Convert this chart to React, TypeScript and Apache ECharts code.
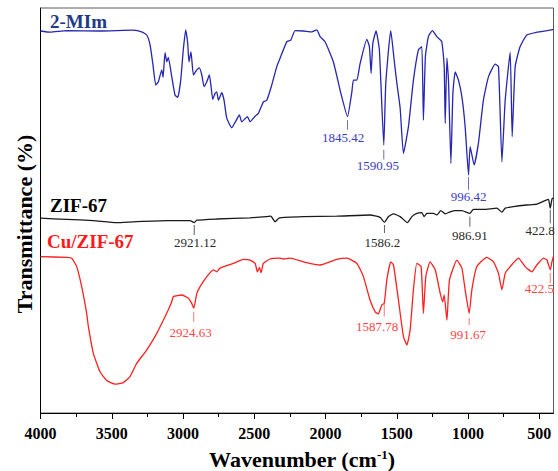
import { useEffect, useRef } from "react";
import * as echarts from "echarts";

// Wavenumber axis (cm-1), drawn high to low
const wavenumberTicks = [4000, 3500, 3000, 2500, 2000, 1500, 1000, 500];
const minorWavenumberTicks = [3750, 3250, 2750, 2250, 1750, 1250, 750];

// FTIR spectra: [wavenumber, transmittance (a.u., offset per sample)]
const mimSpectrum: [number, number][] = [
  [4000, 95.5], [3933, 95.2], [3816, 95.6], [3582, 95.5], [3349, 95.7], [3290, 95.3],
  [3254, 94.5], [3231, 92], [3212, 87.4], [3191, 82], [3173, 82.8], [3149, 85.8],
  [3140, 83.9], [3126, 90.1], [3114, 87.8], [3103, 88.9], [3079, 84.1], [3056, 79.5],
  [3037, 78.9], [3016, 83.2], [2998, 90.8], [2981, 95.8], [2967, 92.4], [2958, 87.8],
  [2944, 90.3], [2927, 84.5], [2903, 85.8], [2885, 86.3], [2868, 84.5], [2852, 81.6],
  [2833, 82.8], [2815, 84.5], [2803, 81.6], [2791, 78.4], [2775, 79.9], [2763, 80.3],
  [2752, 78.2], [2728, 80.1], [2712, 78.2], [2693, 73.7], [2658, 71.3], [2635, 72.6],
  [2604, 74.5], [2588, 72.8], [2548, 74.1], [2529, 72.8], [2494, 74.2], [2471, 74.9],
  [2436, 77.8], [2412, 78.2], [2377, 82], [2342, 86.6], [2319, 88.7], [2272, 92.8],
  [2244, 93.2], [2213, 95.6], [2155, 95.5], [2096, 95.3], [2061, 95.8], [2038, 94.1],
  [2003, 92.8], [1945, 87.8], [1898, 80.8], [1845.42, 74.1], [1815, 80.3], [1804, 83.2],
  [1780, 83.2], [1757, 87.4], [1710, 93.4], [1692, 91.6], [1680, 84.9], [1668, 92.4],
  [1645, 95.5], [1622, 90.8], [1590.95, 67], [1577, 82.4], [1542, 95.6], [1518, 88.2],
  [1499, 82.4], [1476, 76.2], [1453, 64.9], [1418, 71.6], [1383, 83.2], [1348, 90.8],
  [1324, 91.6], [1313, 73.2], [1299, 89.1], [1278, 94.1], [1250, 95.6], [1219, 94.1],
  [1184, 92.8], [1167, 86.6], [1160, 72.4], [1148, 88.7], [1137, 83.2], [1120, 62.4],
  [1106, 79.9], [1090, 85.3], [1067, 83.2], [1043, 79.1], [1020, 71.6], [996.42, 59.5],
  [985, 66.6], [957, 62], [927, 67.4], [892, 78.2], [856, 84.1], [809, 87.2],
  [786, 86.6], [762, 62.8], [739, 78.2], [704, 90.2], [690, 69.1], [669, 86.6],
  [634, 91.6], [587, 94.5], [517, 95.2], [446, 95.6], [400, 95.9],
];

const zif67Spectrum: [number, number][] = [
  [4000, 48.7], [3816, 48.4], [3629, 48.1], [3465, 47.6], [3349, 47.8], [3114, 48.1],
  [2951, 48.1], [2921.12, 47.6], [2903, 48.2], [2763, 48.5], [2529, 48.8], [2412, 49.1],
  [2384, 49.2], [2354, 47.8], [2324, 48.8], [2155, 49.1], [1921, 49.2], [1687, 49.5],
  [1617, 48.9], [1586.2, 47.7], [1558, 49.1], [1523, 49.8], [1476, 49.1], [1425, 47.6],
  [1394, 49.1], [1359, 49.9], [1324, 50.1], [1308, 49.1], [1289, 49.9], [1242, 49.9],
  [1219, 49.5], [1191, 50.6], [1160, 49.8], [1125, 50.3], [1090, 50.6], [1043, 50.6],
  [986.91, 49.9], [962, 50.9], [892, 50.9], [798, 51.2], [762, 50.2], [739, 51.2],
  [681, 51.6], [587, 52], [517, 52.2], [459, 53.1], [435, 53.4], [422.8, 51.2],
  [410, 53.6], [400, 53.8],
];

const cuZif67Spectrum: [number, number][] = [
  [4000, 39.1], [3816, 38.9], [3781, 38.7], [3746, 36.6], [3711, 31.6], [3676, 24.9],
  [3664, 21.6], [3629, 14.9], [3582, 10.3], [3535, 8.1], [3477, 7.2], [3419, 7.6],
  [3372, 9.1], [3325, 12.4], [3254, 15.8], [3184, 19.9], [3138, 23.2], [3103, 25.8],
  [3079, 27.8], [3068, 29.1], [3009, 29.5], [2962, 28.7], [2939, 27.4], [2924.63, 26.2],
  [2903, 29.9], [2880, 31.6], [2833, 34.1], [2787, 35.8], [2763, 35.3], [2740, 36.2],
  [2647, 37.4], [2576, 38.4], [2529, 38.2], [2494, 37.4], [2478, 35.3], [2464, 36.4],
  [2452, 35.1], [2436, 37.4], [2389, 38.5], [2319, 38.7], [2296, 38.5], [2249, 38.7],
  [2155, 37.8], [2038, 37], [1921, 38.4], [1850, 38.7], [1780, 37.4], [1734, 34.1],
  [1687, 28.2], [1650, 25.2], [1629, 24.8], [1605, 27], [1587.78, 27.4], [1570, 33.2],
  [1542, 37.8], [1523, 37], [1488, 28.2], [1453, 19.1], [1429, 17], [1406, 20.8],
  [1383, 30.8], [1359, 37.4], [1329, 36.6], [1313, 24.9], [1296, 34.1], [1266, 37.8],
  [1230, 35.8], [1195, 29.9], [1177, 27.8], [1167, 29.5], [1148, 23.2], [1130, 33.2],
  [1078, 38.2], [1043, 36.2], [1020, 30.8], [991.67, 24.9], [973, 30.8], [938, 36.6],
  [868, 38.9], [821, 37.8], [786, 34.9], [762, 30.8], [739, 34.9], [704, 36.6],
  [646, 38.7], [599, 36.6], [552, 35.3], [517, 37], [470, 38.7], [446, 38.2],
  [422.5, 35.8], [411, 37.8], [400, 39.2],
];

// Peak markers: [wavenumber, marker top, marker bottom]
const mimPeaks: [number, number, number][] = [
  [1845.42, 73.2, 70.8],
  [1590.95, 65.8, 63.4],
  [996.42, 59, 55.8],
];
const zif67Peaks: [number, number, number][] = [
  [2921.12, 47, 44.5],
  [1586.2, 47, 45],
  [986.91, 49.1, 46.6],
  [422.8, 50.8, 47.4],
];
const cuZif67Peaks: [number, number, number][] = [
  [2924.63, 25.3, 22.8],
  [1587.78, 27.8, 24.1],
  [991.67, 23.8, 22],
  [422.5, 35, 32.5],
];

// Label placement relative to the marker's lower end: [dx, dy, align]
type LabelPlace = [number, number, "center" | "right"];
const mimLabelPlace: LabelPlace[] = [[-4.5, 8, "center"], [-6, 6, "center"], [0, 7, "center"]];
const zif67LabelPlace: LabelPlace[] = [[1, 7, "center"], [-2, 9.5, "center"], [0, 9.3, "center"], [4.5, 6.7, "right"]];
const cuZif67LabelPlace: LabelPlace[] = [[-3, 10.5, "center"], [-7, 10, "center"], [-1, 9.3, "center"], [3.7, 5.5, "right"]];

const SERIF = '"Liberation Serif", "Times New Roman", serif';

const BLUE = "#2626b0";
const BLUE_TEXT = "#3b3bc4";
const BLACK = "#1a1a1a";
const BLACK_TEXT = "#2a2a2a";
const RED = "#ff1f1f";
const RED_TEXT = "#ff4545";

function peakSeries(peaks: [number, number, number][], place: LabelPlace[], color: string) {
  return {
    type: "custom",
    silent: true,
    clip: false,
    z: 5,
    encode: { x: 0, y: 1 },
    data: peaks,
    renderItem: (params: any, api: any) => {
      const wn = api.value(0);
      const top = api.coord([wn, api.value(1)]);
      const bottom = api.coord([wn, api.value(2)]);
      const [dx, dy, align] = place[params.dataIndex];
      return {
        type: "group",
        children: [
          {
            type: "line",
            shape: { x1: top[0], y1: top[1], x2: bottom[0], y2: bottom[1] },
            style: { stroke: color, lineWidth: 1, opacity: 0.75 },
          },
          {
            type: "text",
            x: bottom[0] + dx,
            y: bottom[1] + dy,
            style: {
              text: String(wn),
              fill: color,
              font: `13px ${SERIF}`,
              align,
              verticalAlign: "middle",
            },
          },
        ],
      };
    },
  };
}

export default function App() {
  const ref = useRef<HTMLDivElement>(null);

  useEffect(() => {
    if (!ref.current) return;
    const chart = echarts.init(ref.current, undefined, { renderer: "svg" });

    const lineSeries = (name: string, data: [number, number][], color: string) => ({
      name,
      type: "line",
      data,
      showSymbol: false,
      smooth: 0.15,
      lineStyle: { color, width: 1.3 },
      z: 3,
    });

    chart.setOption({
      animation: false,
      backgroundColor: "#ffffff",
      grid: {
        left: 40.5,
        right: 4.5,
        top: 8,
        bottom: 58,
        show: true,
        borderColor: "#5a5a5a",
        borderWidth: 1,
      },
      xAxis: [
        {
          type: "value",
          min: 400,
          max: 4000,
          inverse: true,
          axisLine: { show: true, onZero: false, lineStyle: { color: "#000", width: 1 } },
          axisTick: { show: true, length: 6, customValues: wavenumberTicks, lineStyle: { color: "#000" } },
          axisLabel: {
            customValues: wavenumberTicks,
            formatter: (v: number) => String(v),
            margin: 12,
            color: "#000",
            fontFamily: SERIF,
            fontWeight: "bold",
            fontSize: 16,
          },
          splitLine: { show: false },
        },
        {
          type: "value",
          min: 400,
          max: 4000,
          inverse: true,
          position: "bottom",
          axisLine: { show: false },
          axisTick: { show: true, length: 4, customValues: minorWavenumberTicks, lineStyle: { color: "#000" } },
          axisLabel: { show: false },
          splitLine: { show: false },
        },
      ],
      yAxis: {
        type: "value",
        min: 0,
        max: 101.25,
        axisLine: { show: true, lineStyle: { color: "#000", width: 1 } },
        axisTick: { show: false },
        axisLabel: { show: false },
        splitLine: { show: false },
      },
      series: [
        lineSeries("2-MIm", mimSpectrum, BLUE),
        lineSeries("ZIF-67", zif67Spectrum, BLACK),
        lineSeries("Cu/ZIF-67", cuZif67Spectrum, RED),
        peakSeries(mimPeaks, mimLabelPlace, BLUE_TEXT),
        peakSeries(zif67Peaks, zif67LabelPlace, BLACK_TEXT),
        peakSeries(cuZif67Peaks, cuZif67LabelPlace, RED_TEXT),
      ],
      graphic: [
        {
          type: "text",
          x: 50,
          y: 21,
          style: { text: "2-MIm", font: `bold 19px ${SERIF}`, fill: "#1f3a86", verticalAlign: "middle" },
        },
        {
          type: "text",
          x: 50,
          y: 205,
          style: { text: "ZIF-67", font: `bold 19px ${SERIF}`, fill: "#000", verticalAlign: "middle" },
        },
        {
          type: "text",
          x: 47,
          y: 241,
          style: { text: "Cu/ZIF-67", font: `bold 19px ${SERIF}`, fill: "#ff1a1a", verticalAlign: "middle" },
        },
        {
          type: "text",
          x: 24,
          y: 224,
          rotation: Math.PI / 2,
          style: {
            text: "Transmittance (%)",
            font: `bold 22px ${SERIF}`,
            fill: "#000",
            align: "center",
            verticalAlign: "middle",
          },
        },
        {
          type: "text",
          x: 302,
          y: 459,
          style: {
            text: "{a|Wavenumber (cm}{s|-1}{a|)}",
            align: "center",
            verticalAlign: "middle",
            rich: {
              a: { font: `bold 22px ${SERIF}`, fill: "#000" },
              s: { font: `bold 13px ${SERIF}`, fill: "#000", verticalAlign: "top" },
            },
          },
        },
      ],
    });

    return () => chart.dispose();
  }, []);

  return (
    <div
      ref={ref}
      style={{ position: "fixed", left: 0, top: 0, width: 558, height: 471 }}
    />
  );
}
